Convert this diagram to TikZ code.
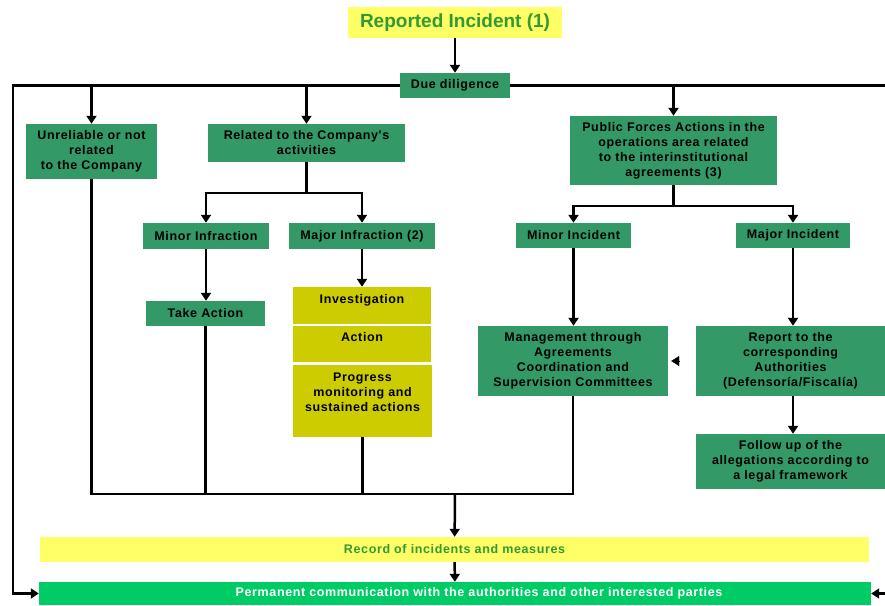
\documentclass[tikz,border=0pt]{standalone}
\usepackage{fontspec}
\setmainfont{Liberation Sans}
\newfontfamily\boxfont[LetterSpace=5]{Liberation Sans}
\usetikzlibrary{arrows.meta}
\definecolor{boxgreen}{RGB}{51,153,102}
\definecolor{lightyellow}{RGB}{255,255,102}
\definecolor{stepyellow}{RGB}{204,204,0}
\definecolor{titlegreen}{RGB}{51,153,51}
\definecolor{commgreen}{RGB}{0,204,102}
\tikzset{
  gbox/.style={fill=boxgreen, inner sep=0pt, align=center,
    font=\boxfont\bfseries\fontsize{12.5}{15}\selectfont},
  ybox/.style={fill=stepyellow, inner sep=0pt, align=center,
    font=\boxfont\bfseries\fontsize{12.5}{15}\selectfont},
  link/.style={line width=2.5pt},
  arr/.style={line width=2.5pt, -{Triangle[width=10pt,length=8pt]}}
}
\begin{document}
\begin{tikzpicture}[x=1pt,y=-1pt]
    \useasboundingbox (0,0) rectangle (885,605);
    % top
    \node[fill=lightyellow, minimum width=214pt, minimum height=31pt,
      text=titlegreen, font=\bfseries\fontsize{19}{22}\selectfont] (rep) at (455,22.5) {Reported Incident (1)};
    \node[gbox, minimum width=110pt, minimum height=25pt] (dd) at (455,85.5) {Due diligence};
    % first level
    \node[gbox, minimum width=131pt, minimum height=55pt] (unrel) at (91.5,151.5)
      {Unreliable or not\\related\\to the Company};
    \node[gbox, minimum width=197pt, minimum height=38pt] (rel) at (306.5,143)
      {Related to the Company's\\activities};
    \node[gbox, minimum width=207pt, minimum height=69pt] (pub) at (673.5,150.5)
      {Public Forces Actions in the\\operations area related\\to the interinstitutional\\agreements (3)};
    % company branch
    \node[gbox, minimum width=126pt, minimum height=26pt] (minf) at (206,236) {Minor Infraction};
    \node[gbox, minimum width=146pt, minimum height=26pt] (majf) at (362,236) {Major Infraction (2)};
    \node[gbox, minimum width=119pt, minimum height=25pt] (take) at (205.5,313.5) {Take Action};
    \node[ybox, minimum width=138pt, minimum height=37pt, text depth=14pt] (inv) at (362,305.5) {Investigation};
    \node[ybox, minimum width=138pt, minimum height=36pt, text depth=14pt] (act) at (362,344) {Action};
    \node[ybox, minimum width=139pt, minimum height=72pt, text depth=18pt] (prog) at (362.5,401)
      {Progress\\monitoring and\\sustained actions};
    % public forces branch
    \node[gbox, minimum width=115pt, minimum height=25pt] (minc) at (573.5,235.5) {Minor Incident};
    \node[gbox, minimum width=114pt, minimum height=25pt] (majc) at (793,235.5) {Major Incident};
    \node[gbox, minimum width=190pt, minimum height=70pt] (mgmt) at (573,361)
      {Management through\\Agreements\\Coordination and\\Supervision Committees};
    \node[gbox, minimum width=189pt, minimum height=70pt] (rpt) at (790.5,361)
      {Report to the\\corresponding\\Authorities\\(Defensoría/Fiscalía)};
    \node[gbox, minimum width=189pt, minimum height=55pt] (fol) at (790.5,461.5)
      {Follow up of the\\allegations according to\\a legal framework};
    % bottom bars
    \node[gbox, fill=lightyellow, minimum width=829pt, minimum height=25pt, text=titlegreen]
      (rec) at (454.5,549.5) {Record of incidents and measures};
    \node[gbox, fill=commgreen, minimum width=832pt, minimum height=23pt, text=white]
      (perm) at (455,593.5) {\hspace*{48pt}Permanent communication with the authorities and other interested parties};
    % connectors
    \coordinate (lturn) at (13,85.5);
    \coordinate (rturn) at (886.5,85.5);
    \coordinate (bus) at (455,494);
    \draw[arr] (rep) -- (dd);
    \draw[arr] (dd.west) -- (lturn) |- (perm.west);
    \draw[arr] (dd.east) -- (rturn) |- (perm.east);
    \draw[arr] (unrel.north |- dd) -- (unrel.north);
    \draw[arr] (rel.north |- dd) -- (rel.north);
    \draw[arr] (pub.north |- dd) -- (pub.north);
    \draw[link] (rel.south) -- ++(0,31) coordinate (rsplit);
    \draw[arr] (rsplit) -| (minf.north);
    \draw[arr] (rsplit) -| (majf.north);
    \draw[arr] (minf.south) -- (minf.south |- take.north);
    \draw[arr] (majf) -- (inv);
    \draw[link] (pub.south) -- ++(0,21) coordinate (psplit);
    \draw[arr] (psplit) -| (minc.north);
    \draw[arr] (psplit) -| (majc.north);
    \draw[arr] (minc.south) -- (minc.south |- mgmt.north);
    \draw[arr] (majc.south) -- (majc.south |- rpt.north);
    \draw[arr] (majc.south |- rpt.south) -- (majc.south |- fol.north);
    \draw[-{Triangle[width=10pt,length=8pt]}] ([xshift=11pt]mgmt.east) -- ([xshift=3pt]mgmt.east);
    % collector
    \draw[link] (unrel.south) -- (unrel.south |- bus) -- (mgmt.south |- bus) -- (mgmt.south);
    \draw[link] (take.south) -- (take.south |- bus);
    \draw[link] (prog.south) -- (prog.south |- bus);
    \draw[arr] (bus) -- (rec);
    \draw[arr] (rec) -- (perm);
\end{tikzpicture}
\end{document}
